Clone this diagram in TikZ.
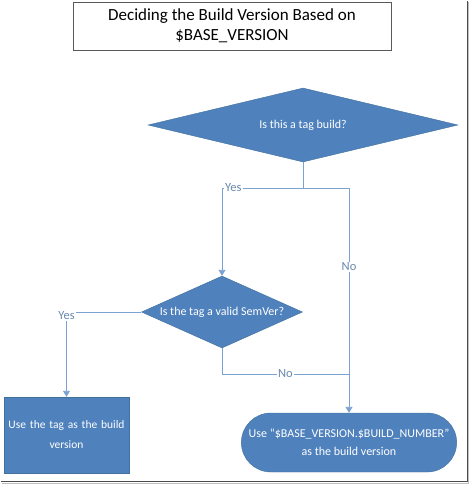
\documentclass[tikz,border=0pt]{standalone}
\usepackage{fontspec}
\setmainfont{Carlito}
\usetikzlibrary{shapes.geometric,shapes.misc,arrows.meta,calc}

\definecolor{boxblue}{HTML}{4F81BD}
\definecolor{boxedge}{HTML}{41719C}
\definecolor{wireblue}{HTML}{7BA2D2}
\definecolor{labelblue}{HTML}{6A89AE}

\begin{document}
\begin{tikzpicture}[
    x=1pt, y=-1pt,
    title/.style={rectangle, draw=black!65, line width=0.9pt, minimum width=318pt, minimum height=48pt, align=center, font=\fontsize{17}{20}\selectfont},
    decision/.style={diamond, draw=boxedge, fill=boxblue, inner sep=0pt, text=white, align=center, font=\fontsize{12}{14}\selectfont},
    box/.style={rectangle, draw=boxedge, fill=boxblue, text=white, align=center, font=\fontsize{11.5}{20}\selectfont},
    terminal/.style={rounded rectangle, draw=boxedge, fill=boxblue, text=white, align=center, font=\fontsize{12}{18}\selectfont},
    label/.style={font=\fontsize{12.5}{14}\selectfont, text=labelblue, fill=white, inner sep=1pt},
    wire/.style={draw=wireblue, line width=0.9pt},
    arrow/.style={wire, -{Triangle[length=6pt, width=7pt]}},
]
\useasboundingbox (0,0) rectangle (469,484);

% ====== Title ======
\node[title] (head) at (232,26) {Deciding the Build Version Based on\\\$BASE\_VERSION};

% ====== Decisions ======
\node[decision, aspect=4.2, minimum width=310pt, minimum height=74pt] (tagq) at (303,125) {Is this a tag build?};
\node[decision, aspect=2.24, minimum width=161pt, minimum height=72pt] (semq) at (222,312) {Is the tag a valid SemVer?};

% ====== Outcomes ======
\node[box, minimum width=123pt, minimum height=76pt, text width=118pt] (usetag) at (66.5,435) {Use the tag as the build\\version};
\node[terminal, minimum width=222pt, minimum height=59pt] (usebase) at (349,442.5) {Use “\$BASE\_VERSION.\$BUILD\_NUMBER”\\as the build version};

\coordinate (split) at (303,188);
\coordinate (yes1) at (222,188);
\coordinate (no1) at (349,188);
\coordinate (merge) at (349,374);

% ====== Connectors ======
\draw[wire] (tagq.south) -- (split);
\draw[wire] (yes1) -- (no1);
\draw[arrow] (yes1) -- (semq.north);
\node[label, anchor=west] at ([xshift=2pt]yes1) {Yes};
\draw[arrow] (no1) -- node[label, pos=0.35] {No} (usebase.north);

\draw[wire] (semq.south) |- node[label, pos=0.75] {No} (merge);
\draw[arrow] (semq.west) -| node[label, pos=0.5, yshift=-4pt] {Yes} (usetag.north);

% ====== Frame ======
\draw[black!70, line width=1pt] (1,481) -- (467,481) -- (467,1);
\draw[black!25, line width=0.8pt] (2,483) -- (468,483) -- (468,2);

\end{tikzpicture}
\end{document}
